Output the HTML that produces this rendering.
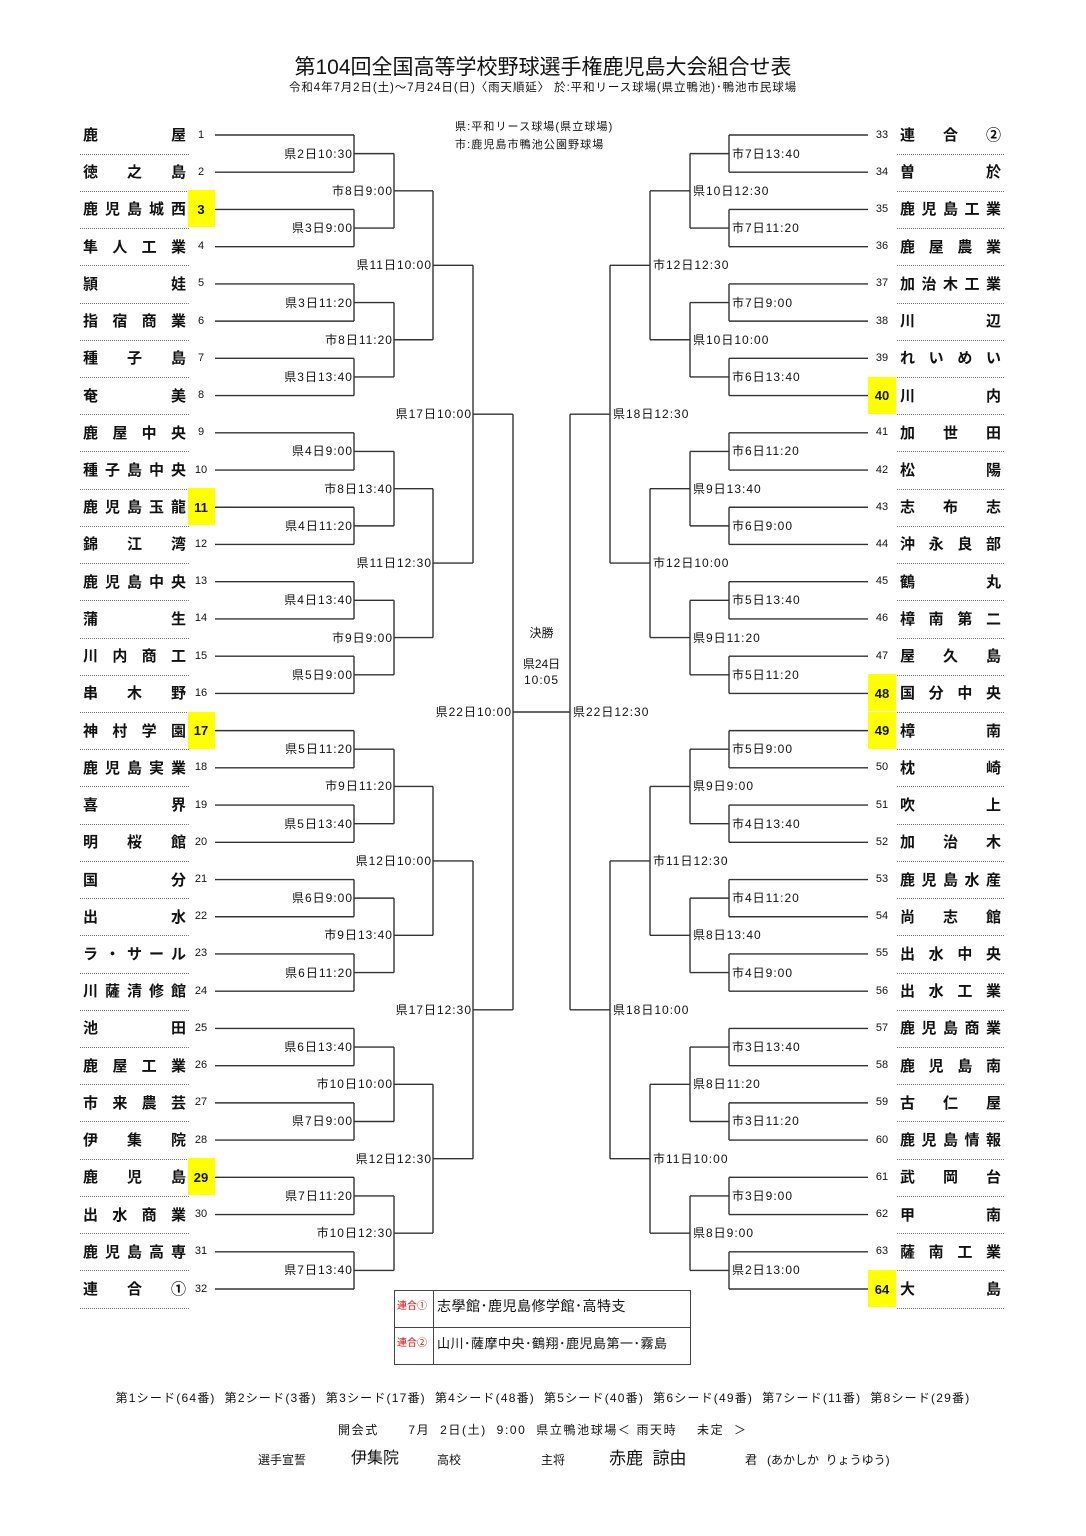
<!DOCTYPE html>
<html><head><meta charset="utf-8">
<style>
html,body{margin:0;padding:0;background:#fff;}
#pg{position:relative;width:1086px;height:1536px;overflow:hidden;font-family:"Liberation Sans","Noto Sans CJK JP",sans-serif;color:#111;}
.t{position:absolute;white-space:nowrap;line-height:1;}
.nm{position:absolute;display:flex;justify-content:space-between;font-size:15px;font-weight:bold;line-height:1;letter-spacing:0;}
.dot{position:absolute;height:0;border-top:1px dotted #777;}
.yl{position:absolute;background:#ffff00;}
svg{position:absolute;left:0;top:0;}
</style></head><body>
<div id="pg">
<div class="t" style="left:0;width:1086px;text-align:center;top:57px;font-size:21px;">第104回全国高等学校野球選手権鹿児島大会組合せ表</div>
<div class="t" style="left:0;width:1086px;text-align:center;top:83px;font-size:11.5px;letter-spacing:0.9px;">令和4年7月2日(土)～7月24日(日)〈雨天順延〉 於:平和リース球場(県立鴨池)･鴨池市民球場</div>
<div class="t" style="left:455px;top:122px;font-size:11px;letter-spacing:1.1px;">県:平和リース球場(県立球場)</div>
<div class="t" style="left:455px;top:140px;font-size:11px;letter-spacing:1.1px;">市:鹿児島市鴨池公園野球場</div>
<div class="t" style="left:513px;width:57px;text-align:center;top:627px;font-size:12px;">決勝</div>
<div class="t" style="left:513px;width:57px;text-align:center;top:658px;font-size:12px;">県24日</div>
<div class="t" style="left:513px;width:57px;text-align:center;top:674px;font-size:12px;letter-spacing:1px;">10:05</div>
<svg id="sv" width="1086" height="1536"></svg>
<div style="position:absolute;left:394px;top:1290px;width:295px;height:73px;border:1px solid #444;"></div>
<div style="position:absolute;left:433px;top:1290px;width:0;height:74px;border-left:1px solid #444;"></div>
<div style="position:absolute;left:394px;top:1327px;width:296px;height:0;border-top:1px solid #444;"></div>
<div class="t" style="left:397px;top:1302px;font-size:10px;color:#d00;">連合①</div>
<div class="t" style="left:437px;top:1299px;font-size:14px;letter-spacing:0.5px;">志學館･鹿児島修学館･高特支</div>
<div class="t" style="left:397px;top:1339px;font-size:10px;color:#d00;">連合②</div>
<div class="t" style="left:437px;top:1337px;font-size:13px;letter-spacing:0.5px;">山川･薩摩中央･鶴翔･鹿児島第一･霧島</div>
<div class="t" style="left:0;width:1086px;text-align:center;top:1392px;font-size:12px;letter-spacing:1.2px;">第1シード(64番)&nbsp; 第2シード(3番)&nbsp; 第3シード(17番)&nbsp; 第4シード(48番)&nbsp; 第5シード(40番)&nbsp; 第6シード(49番)&nbsp; 第7シード(11番)&nbsp; 第8シード(29番)</div>
<div class="t" style="left:338px;top:1424px;font-size:12px;letter-spacing:1.6px;">開会式&nbsp;&nbsp;&nbsp;&nbsp;&nbsp; 7月&nbsp; 2日(土)&nbsp; 9:00&nbsp; 県立鴨池球場＜ 雨天時&nbsp;&nbsp;&nbsp; 未定&nbsp; ＞</div>
<div class="t" style="left:258px;top:1454px;font-size:12px;">選手宣誓</div>
<div class="t" style="left:351px;top:1451px;font-size:16px;">伊集院</div>
<div class="t" style="left:437px;top:1454px;font-size:12px;">高校</div>
<div class="t" style="left:541px;top:1454px;font-size:12px;">主将</div>
<div class="t" style="left:609px;top:1450px;font-size:17px;">赤鹿&nbsp; 諒由</div>
<div class="t" style="left:745px;top:1454px;font-size:12px;">君&nbsp;&nbsp; (あかしか&nbsp; りょうゆう)</div>
</div>
<script>
var pg=document.getElementById('pg'),sv=document.getElementById('sv');
function Y(i){return 135+(i-1)*37.226;}
function ln(x1,y1,x2,y2){var l=document.createElementNS('http://www.w3.org/2000/svg','line');l.setAttribute('x1',x1);l.setAttribute('y1',y1);l.setAttribute('x2',x2);l.setAttribute('y2',y2);l.setAttribute('stroke','#333');l.setAttribute('stroke-width','1.4');sv.appendChild(l);}
function tx(s,x,y,al,sz,bold,ls){var d=document.createElement('div');d.className='t';d.textContent=s;d.style.fontSize=(sz||12)+'px';if(ls)d.style.letterSpacing=ls+'px';if(bold)d.style.fontWeight='bold';d.style.top=(y-(sz||12)/2)+'px';if(al=='r'){d.style.right=(1086-x-(ls||0))+'px';}else if(al=='c'){d.style.left=(x-20)+'px';d.style.width='40px';d.style.textAlign='center';}else d.style.left=x+'px';pg.appendChild(d);}
var L=["鹿屋","徳之島","鹿児島城西","隼人工業","頴娃","指宿商業","種子島","奄美","鹿屋中央","種子島中央","鹿児島玉龍","錦江湾","鹿児島中央","蒲生","川内商工","串木野","神村学園","鹿児島実業","喜界","明桜館","国分","出水","ラ・サール","川薩清修館","池田","鹿屋工業","市来農芸","伊集院","鹿児島","出水商業","鹿児島高専","連合①"];
var R=["連合②","曽於","鹿児島工業","鹿屋農業","加治木工業","川辺","れいめい","川内","加世田","松陽","志布志","沖永良部","鶴丸","樟南第二","屋久島","国分中央","樟南","枕崎","吹上","加治木","鹿児島水産","尚志館","出水中央","出水工業","鹿児島商業","鹿児島南","古仁屋","鹿児島情報","武岡台","甲南","薩南工業","大島"];
var HL=[3,11,17,29,40,48,49,64];
function names(arr,off,x0,x1,nx,bx0,bx1){for(var i=0;i<32;i++){var n=i+1+off,y=Y(i+1);
 if(HL.indexOf(n)>=0){var b=document.createElement('div');b.className='yl';b.style.left=bx0+'px';b.style.width=(bx1-bx0)+'px';b.style.top=(y-19)+'px';b.style.height='37px';pg.appendChild(b);tx(String(n),nx,y,'c',13,true);}
 else tx(String(n),nx,y,'c',11,false);
 var d=document.createElement('div');d.className='nm';d.style.left=x0+'px';d.style.width=(x1-x0)+'px';d.style.top=(y-7)+'px';
 var cs=Array.from(arr[i]);cs.forEach(function(c){var s=document.createElement('span');s.textContent=c;d.appendChild(s);});pg.appendChild(d);
 var dt=document.createElement('div');dt.className='dot';dt.style.left=(x0-3)+'px';dt.style.width=(x1-x0+6)+'px';dt.style.top=(y+18.6)+'px';pg.appendChild(dt);}}
names(L,0,83,186,201,188,215);
names(R,32,900,1001,882,868,896);
var LL=[["県2日10:30","県3日9:00","県3日11:20","県3日13:40","県4日9:00","県4日11:20","県4日13:40","県5日9:00","県5日11:20","県5日13:40","県6日9:00","県6日11:20","県6日13:40","県7日9:00","県7日11:20","県7日13:40"],
["市8日9:00","市8日11:20","市8日13:40","市9日9:00","市9日11:20","市9日13:40","市10日10:00","市10日12:30"],
["県11日10:00","県11日12:30","県12日10:00","県12日12:30"],["県17日10:00","県17日12:30"],["県22日10:00"]];
var RL=[["市7日13:40","市7日11:20","市7日9:00","市6日13:40","市6日11:20","市6日9:00","市5日13:40","市5日11:20","市5日9:00","市4日13:40","市4日11:20","市4日9:00","市3日13:40","市3日11:20","市3日9:00","県2日13:00"],
["県10日12:30","県10日10:00","県9日13:40","県9日11:20","県9日9:00","県8日13:40","県8日11:20","県8日9:00"],
["市12日12:30","市12日10:00","市11日12:30","市11日10:00"],["県18日12:30","県18日10:00"],["県22日12:30"]];
function side(labels,xs,xStart,dir){
 var ys=[];for(var i=1;i<=32;i++){ys.push(Y(i));ln(xStart,Y(i),xs[0],Y(i));}
 for(var r=0;r<5;r++){var x=xs[r],nx=(r<4)?xs[r+1]:542,ny=[];
  for(var k=0;k<ys.length;k+=2){var a=ys[k],b=ys[k+1],m=(a+b)/2;ln(x,a,x,b);ln(x,m,nx,m);ny.push(m);
   if(dir<0)tx(labels[r][k/2],x-2,m,'r',12,false,1);else tx(labels[r][k/2],x+3,m,'l',12,false,1);}
  ys=ny;}
}
side(LL,[354,394,433,473,513],215,-1);
side(RL,[729,690,650,610,570],868,1);
</script>
</body></html>
